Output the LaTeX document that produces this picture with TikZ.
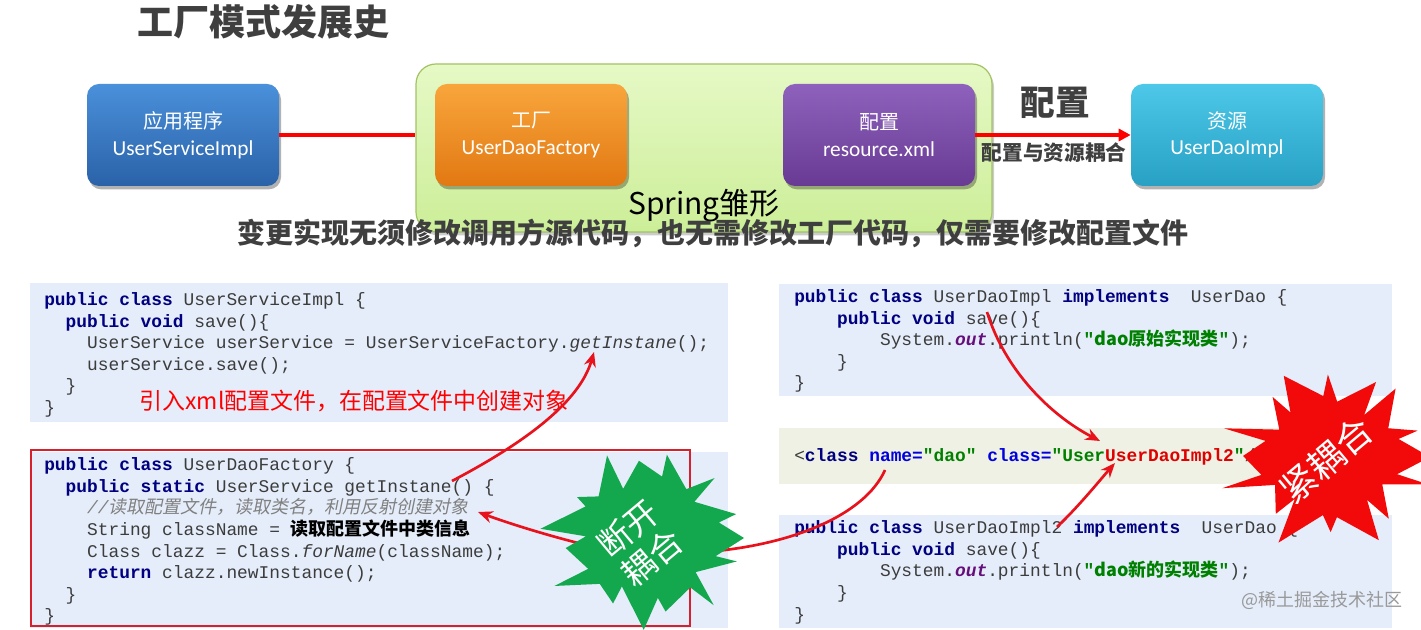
\documentclass[tikz,border=0pt]{standalone}
\usepackage{fontspec}
\setmainfont{Noto Sans CJK SC}
\setmonofont{Liberation Mono}
\newfontfamily\cjk{Noto Sans CJK SC}
\newfontfamily\cjkit{Noto Sans CJK SC}[FakeSlant=0.2]
\newfontfamily\lat{Carlito}
\usetikzlibrary{arrows.meta,shadows}
\definecolor{kwc}{HTML}{000080}
\definecolor{codec}{HTML}{3C3C3C}
\definecolor{cmtc}{HTML}{808080}
\definecolor{strc}{HTML}{008000}
\definecolor{outc}{HTML}{660E7A}
\definecolor{attc}{HTML}{0000E0}
\definecolor{xmlred}{HTML}{E00000}
\definecolor{arrc}{HTML}{E8121C}
\definecolor{framec}{HTML}{D6202C}
\definecolor{bgblue}{HTML}{E5EDFA}
\definecolor{bgxml}{HTML}{EEF1E3}
\definecolor{titlec}{HTML}{3F3F3F}
\definecolor{starred}{HTML}{F20A0A}
\definecolor{stargreen}{HTML}{14A84E}
\definecolor{blueT}{HTML}{4A90DA}
\definecolor{blueB}{HTML}{2A62A8}
\definecolor{orT}{HTML}{F8A63C}
\definecolor{orB}{HTML}{E27812}
\definecolor{puT}{HTML}{8E62BC}
\definecolor{puB}{HTML}{683A94}
\definecolor{cyT}{HTML}{4DC8E8}
\definecolor{cyB}{HTML}{27A0C4}
\definecolor{sprT}{HTML}{E6F9C6}
\definecolor{sprB}{HTML}{CCEE98}
\definecolor{sprD}{HTML}{A2C264}
\newcommand\codefont{\ttfamily\fontsize{13.4}{16.2}\selectfont\color{codec}}
\newcommand\zh{\cjk\fontsize{13.5}{16.2}\selectfont}
\newcommand\zhit{\cjkit\fontsize{13.5}{16.2}\selectfont}
\newcommand\kw[1]{\textcolor{kwc}{\bfseries #1}}
\newcommand\strg[1]{\textcolor{strc}{\bfseries #1}}
\newcommand\outk[1]{\textcolor{outc}{\bfseries\itshape #1}}
\newcommand\ind[1]{\hspace*{#1em}}
\tikzset{
  cbox/.style={rounded corners=9pt, minimum width=144pt, minimum height=76.5pt,
    text=white, align=center, font=\fontsize{15}{20}\selectfont,
    drop shadow={shadow xshift=1.5pt, shadow yshift=-2.5pt, opacity=0.3, fill=black}},
  springbox/.style={rounded corners=15pt, minimum width=432pt, minimum height=126pt,
    top color=sprT, bottom color=sprB, draw=sprD, line width=0.9pt,
    drop shadow={shadow xshift=1.5pt, shadow yshift=-2.5pt, opacity=0.2, fill=black}},
  conn/.style={draw=red, line width=2.3pt},
  arr/.style={draw=arrc, line width=2pt, -{Stealth[length=11pt,width=9pt]}},
  code/.style={anchor=north west, inner sep=0pt, align=left, font=\codefont},
  boldlabel/.style={text=titlec, font=\bfseries},
  burst/.style={text=white, align=center, rotate=40}
}
\begin{document}
\begin{tikzpicture}[x=0.75pt,y=-0.75pt]
\useasboundingbox (0,0) rectangle (1421,630);
\clip (0,0) rectangle (1421,630);
\fill[white] (0,0) rectangle (1421,630);

% ---- top part
\node[boldlabel, font=\bfseries\fontsize{27}{30}\selectfont] (title) at (263,22) {工厂模式发展史};
\node[springbox] (spring) at (704,148) {};
\node[cbox, top color=blueT, bottom color=blueB] (app) at (183,135) {应用程序\\\lat\fontsize{16}{20}\selectfont UserServiceImpl};
\node[cbox, top color=orT, bottom color=orB] (fac) at (531,135) {工厂\\\lat\fontsize{16}{20}\selectfont UserDaoFactory};
\node[cbox, top color=puT, bottom color=puB] (cfg) at (879,135) {配置\\\lat\fontsize{16}{20}\selectfont resource.xml};
\node[cbox, top color=cyT, bottom color=cyB] (res) at (1227,135) {资源\\\lat\fontsize{16}{20}\selectfont UserDaoImpl};
\draw[conn] (app.east) -- (app.east -| spring.west);
\draw[conn, -{Triangle[length=9pt,width=9pt]}] (cfg.east) -- (res.west);
\node[boldlabel, font=\bfseries\fontsize{26}{28}\selectfont] (cfglabel) at (1055,103) {配置};
\node[boldlabel, font=\bfseries\fontsize{15.5}{18}\selectfont] (couple) at (1054,153) {配置与资源耦合};
\node[font=\fontsize{22.5}{25}\selectfont] (springlabel) at (704,206) {Spring雏形};
\node[boldlabel, font=\bfseries\fontsize{21}{24}\selectfont] (subtitle) at (713,233) {变更实现无须修改调用方源代码，也无需修改工厂代码，仅需要修改配置文件};

% ---- code backgrounds
\fill[bgblue] (30,283) rectangle (728,422);
\fill[bgblue] (30,452) rectangle (728,628);
\draw[framec, line width=2.2pt] (31,450) rectangle (690,626);
\fill[bgblue] (779,284) rectangle (1392,396);
\fill[bgxml] (779,428) rectangle (1392,484);
\fill[bgblue] (779,515) rectangle (1392,628);

% ---- code texts
\node[code] (codeA) at (44,288) {\rule{0pt}{13pt}\kw{public class} UserServiceImpl \{\\
\ind{1.2}\kw{public void} save()\{\\
\ind{2.4}UserService userService = UserServiceFactory.\textit{getInstane}();\\
\ind{2.4}userService.save();\\
\ind{1.2}\}\\
\}};
\node[text=red, font=\fontsize{17.2}{20}\selectfont] (xmlnote) at (354,401) {引入xml配置文件，在配置文件中创建对象};

\node[code] (codeB) at (44,453) {\rule{0pt}{13pt}\kw{public class} UserDaoFactory \{\\
\ind{1.2}\kw{public static} UserService getInstane() \{\\
\ind{2.4}\textcolor{cmtc}{\itshape//{\zhit 读取配置文件，读取类名，利用反射创建对象}}\\
\ind{2.4}String className = {\zh\bfseries\color{black}读取配置文件中类信息}\\
\ind{2.4}Class clazz = Class.\textit{forName}(className);\\
\ind{2.4}\kw{return} clazz.newInstance();\\
\ind{1.2}\}\\
\}};

\node[code] (codeC) at (794,285) {\rule{0pt}{13pt}\kw{public class} UserDaoImpl \kw{implements}\ \ UserDao \{\\
\ind{2.4}\kw{public void} save()\{\\
\ind{4.8}System.\outk{out}.println(\strg{"{\zh dao原始实现类}"});\\
\ind{2.4}\}\\
\}};

\node[code] (codeX) at (794,444) {\rule{0pt}{13pt}<\kw{class} \textcolor{attc}{\bfseries name=}\strg{"dao"} \textcolor{attc}{\bfseries class=}\strg{"User}\textcolor{xmlred}{\bfseries UserDaoImpl2}\strg{"}/>};

\node[code] (codeD) at (794,516) {\rule{0pt}{13pt}\kw{public class} UserDaoImpl2 \kw{implements}\ \ UserDao \{\\
\ind{2.4}\kw{public void} save()\{\\
\ind{4.8}System.\outk{out}.println(\strg{"{\zh dao新的实现类}"});\\
\ind{2.4}\}\\
\}};

\node[text=black!40, font=\fontsize{13.5}{15}\selectfont] (mark) at (1322,600) {@稀土掘金技术社区};

% ---- connector end points
\coordinate (a1) at (452,481); \coordinate (a2) at (594,352);
\coordinate (b1) at (590,546); \coordinate (b2) at (478,512);
\coordinate (c1) at (885,470); \coordinate (c2) at (690,553);
\coordinate (d1) at (987,312); \coordinate (d2) at (1100,441);
\coordinate (e1) at (1057,527); \coordinate (e2) at (1115,463);

\draw[arr] (a1) .. controls (530,440) and (580,400) .. (a2);
\draw[arr] (b1) .. controls (545,535) and (505,522) .. (b2);
\draw[draw=arrc, line width=2pt] (c1) .. controls (865,515) and (790,548) .. (c2);
\draw[arr] (d1) .. controls (1005,370) and (1050,415) .. (d2);
\draw[arr] (e1) .. controls (1080,505) and (1100,480) .. (e2);

% ---- starbursts
\fill[stargreen, shift={(648,538)}, yscale=0.86] plot[samples at={0,...,29}, variable=\k]
  ({\k*360/30+7*sin(\k*131)}:{mod(\k,2)==0 ? 96+13*sin(\k*97) : 68+6*cos(\k*61)}) -- cycle;
\node[burst, font=\fontsize{25}{28}\selectfont] (cut) at (640,543) {断开\\耦合};

\fill[starred, shift={(1330,457)}, yscale=0.85] plot[samples at={0,...,31}, variable=\k]
  ({\k*360/32+6*sin(\k*113)}:{mod(\k,2)==0 ? 100+14*sin(\k*83) : 66+6*cos(\k*47)}) -- cycle;
\node[burst, font=\fontsize{27}{30}\selectfont] (tight) at (1326,460) {紧耦合};
\end{tikzpicture}
\end{document}
